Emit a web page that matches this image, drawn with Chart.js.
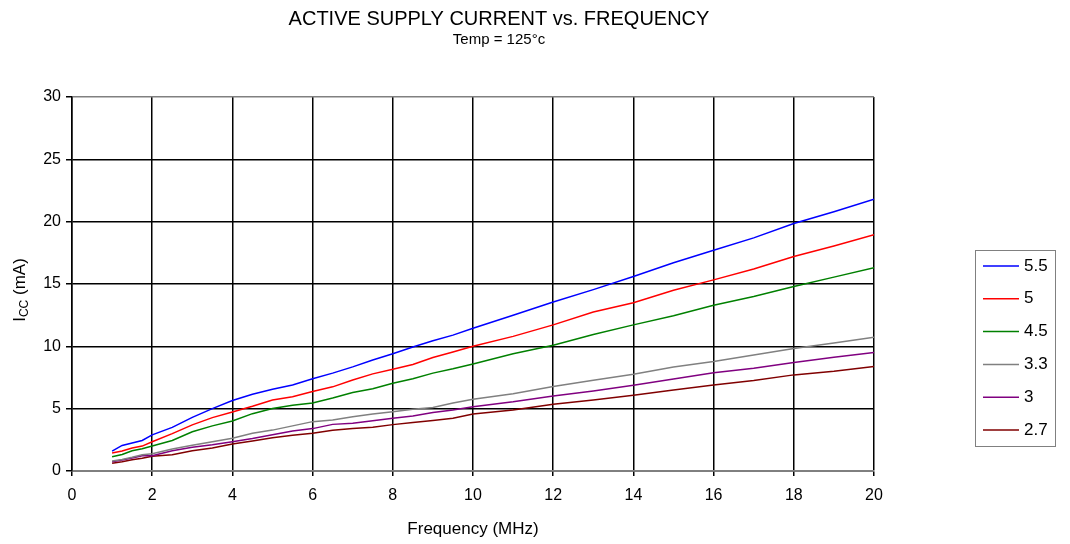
<!DOCTYPE html>
<html>
<head>
<meta charset="utf-8">
<script src="https://cdn.jsdelivr.net/npm/chart.js@4/dist/chart.umd.min.js"></script>
<style>
  html, body { margin: 0; padding: 0; background: #fff; }
  #wrap { width: 1070px; height: 544px; }
</style>
</head>
<body>
<div id="wrap"><canvas id="chart" width="1070" height="544"></canvas></div>
<script>
// frequency points (MHz)
const freq = [1, 1.25, 1.5, 1.75, 2, 2.5, 3, 3.5, 4, 4.5, 5, 5.5, 6, 6.5, 7, 7.5, 8, 8.5, 9, 9.5, 10, 11, 12, 13, 14, 15, 16, 17, 18, 19, 20];

// Icc (mA) per supply voltage
const icc55 = [1.6, 2.05, 2.25, 2.45, 2.9, 3.5, 4.3, 5.0, 5.65, 6.15, 6.55, 6.9, 7.4, 7.85, 8.35, 8.9, 9.4, 9.95, 10.45, 10.9, 11.45, 12.5, 13.55, 14.55, 15.6, 16.7, 17.7, 18.7, 19.85, 20.8, 21.8];
const icc50 = [1.45, 1.6, 1.85, 2.0, 2.35, 3.0, 3.7, 4.28, 4.74, 5.2, 5.7, 5.95, 6.37, 6.75, 7.3, 7.79, 8.16, 8.55, 9.1, 9.55, 10.0, 10.8, 11.72, 12.75, 13.5, 14.5, 15.33, 16.2, 17.2, 18.05, 18.95];
const icc45 = [1.15, 1.33, 1.63, 1.78, 2.0, 2.45, 3.15, 3.62, 4.01, 4.6, 5.02, 5.27, 5.45, 5.85, 6.3, 6.6, 7.04, 7.4, 7.85, 8.2, 8.59, 9.4, 10.09, 10.95, 11.72, 12.45, 13.3, 14.0, 14.8, 15.55, 16.3];
const icc33 = [0.8, 0.92, 1.1, 1.3, 1.38, 1.77, 2.06, 2.35, 2.62, 3.02, 3.28, 3.62, 3.96, 4.1, 4.36, 4.57, 4.76, 4.95, 5.1, 5.45, 5.75, 6.2, 6.77, 7.28, 7.76, 8.35, 8.78, 9.3, 9.82, 10.27, 10.73];
const icc30 = [0.75, 0.88, 1.05, 1.22, 1.23, 1.62, 1.9, 2.1, 2.35, 2.6, 2.9, 3.2, 3.4, 3.74, 3.83, 4.03, 4.23, 4.42, 4.7, 4.9, 5.16, 5.55, 6.02, 6.42, 6.88, 7.38, 7.89, 8.25, 8.7, 9.12, 9.5];
const icc27 = [0.62, 0.75, 0.9, 1.02, 1.18, 1.3, 1.63, 1.84, 2.17, 2.4, 2.66, 2.86, 3.02, 3.27, 3.4, 3.5, 3.72, 3.9, 4.06, 4.24, 4.58, 4.9, 5.35, 5.7, 6.07, 6.5, 6.9, 7.25, 7.71, 8.0, 8.38];

const seriesLabels = ['5.5', '5', '4.5', '3.3', '3', '2.7'];
const seriesColors = ['#0000ff', '#ff0000', '#008000', '#808080', '#800080', '#800000'];
const seriesData = [icc55, icc50, icc45, icc33, icc30, icc27];

const FONT = '"Liberation Sans", Arial, sans-serif';

/* ─────────────────────────────────────────────
   titles, y-axis label and boxed legend
───────────────────────────────────────────── */

const decorPlugin = {
  id: 'decor',
  afterDraw(chart) {
    const ctx = chart.ctx;
    ctx.save();
    ctx.fillStyle = '#000';
    ctx.textAlign = 'center';
    ctx.textBaseline = 'middle';
    ctx.font = '20px ' + FONT;
    ctx.fillText('ACTIVE SUPPLY CURRENT vs. FREQUENCY', 499, 19);
    ctx.font = '15px ' + FONT;
    ctx.fillText('Temp = 125°c', 499, 40);

    // y axis title with subscript
    ctx.translate(20, 290);
    ctx.rotate(-Math.PI / 2);
    const big = '17px ' + FONT, small = '12px ' + FONT;
    ctx.font = big;
    const wI = ctx.measureText('I').width;
    const wRest = ctx.measureText(' (mA)').width;
    ctx.font = small;
    const wCC = ctx.measureText('CC').width;
    let x = -(wI + wCC + wRest) / 2;
    ctx.textAlign = 'left';
    ctx.font = big;
    ctx.fillText('I', x, 0);
    x += wI;
    ctx.font = small;
    ctx.fillText('CC', x, 5);
    x += wCC;
    ctx.font = big;
    ctx.fillText(' (mA)', x, 0);
    ctx.restore();

    // legend
    ctx.save();
    const lx = 975, ly = 250, lw = 80, lh = 196;
    ctx.strokeStyle = '#808080';
    ctx.lineWidth = 1;
    ctx.strokeRect(lx + 0.5, ly + 0.5, lw, lh);
    ctx.font = '17px ' + FONT;
    ctx.textBaseline = 'middle';
    ctx.textAlign = 'left';
    chart.data.datasets.forEach((ds, i) => {
      const y = ly + 16 + i * 32.8;
      ctx.strokeStyle = ds.borderColor;
      ctx.lineWidth = 1.5;
      ctx.beginPath();
      ctx.moveTo(983, y);
      ctx.lineTo(1019, y);
      ctx.stroke();
      ctx.fillStyle = '#000';
      ctx.fillText(ds.label, 1024, y);
    });
    ctx.restore();
  }
};

new Chart(document.getElementById('chart'), {
  type: 'line',
  data: {
    datasets: seriesData.map((vals, i) => ({
      label: seriesLabels[i],
      data: vals.map((v, j) => ({ x: freq[j], y: v })),
      borderColor: seriesColors[i],
      borderWidth: 1.5,
      pointRadius: 0,
      tension: 0,
      fill: false
    }))
  },
  options: {
    responsive: false,
    animation: false,
    layout: { padding: { left: 0, top: 97, right: 196, bottom: 0 } },
    plugins: {
      legend: { display: false },
      tooltip: { enabled: false },
      title: { display: false }
    },
    scales: {
      x: {
        type: 'linear',
        min: 0,
        max: 20,
        afterFit: s => { s.height = 73; },
        ticks: { stepSize: 2, color: '#000', font: { family: FONT, size: 16 }, padding: 10, maxRotation: 0 },
        grid: { color: '#000', lineWidth: 1.5, tickLength: 5, tickColor: '#000' },
        border: { color: '#808080', width: 1.5 },
        title: { display: true, text: 'Frequency (MHz)', color: '#000', font: { family: FONT, size: 17 }, padding: { top: 0, bottom: 4 } }
      },
      y: {
        min: 0,
        max: 30,
        afterFit: s => { s.width = 72; },
        ticks: { stepSize: 5, color: '#000', font: { family: FONT, size: 16 }, padding: 5 },
        grid: { color: ctx => ctx.tick && ctx.tick.value === 30 ? '#808080' : '#000', lineWidth: 1.5, tickLength: 6, tickColor: '#000' },
        border: { color: '#000', width: 1.5 }
      }
    }
  },
  plugins: [decorPlugin]
});
</script>
</body>
</html>
